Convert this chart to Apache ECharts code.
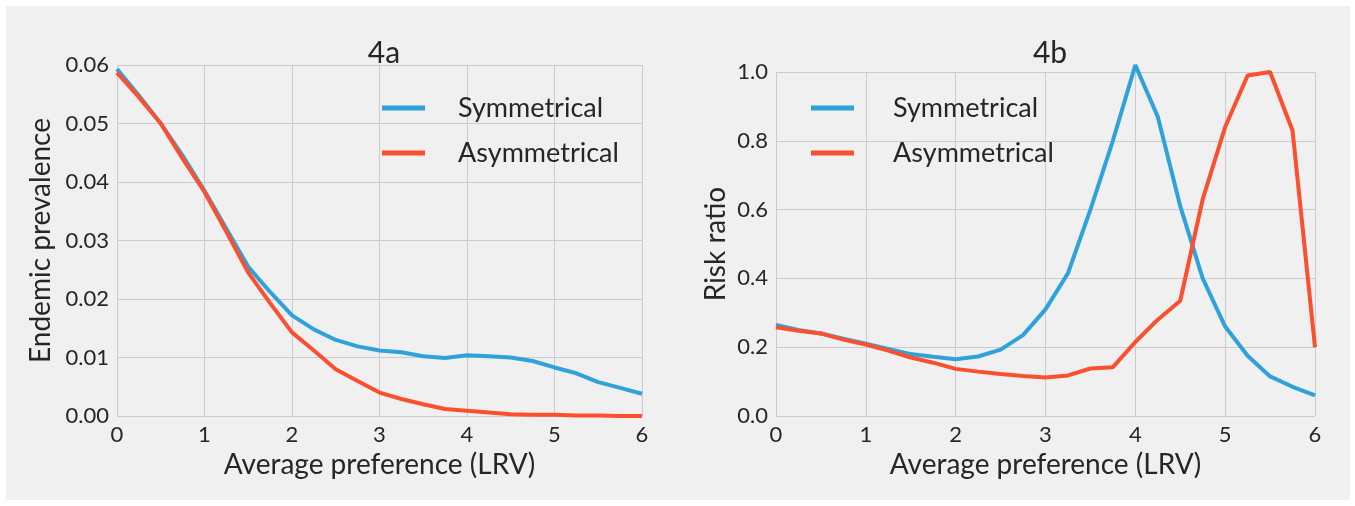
<!DOCTYPE html>
<html>
<head>
<meta charset="utf-8">
<script src="https://cdn.jsdelivr.net/npm/echarts@6/dist/echarts.min.js"></script>
<style>
	html, body { margin: 0; padding: 0; background: #fff; }
	#chart { width: 1355px; height: 506px; }
</style>
</head>
<body>
<div id="chart"></div>
<script>
// average preference (LRV), sampled every 0.25
var lrv = [0, 0.25, 0.5, 0.75, 1, 1.25, 1.5, 1.75, 2, 2.25, 2.5, 2.75, 3, 3.25, 3.5, 3.75, 4, 4.25, 4.5, 4.75, 5, 5.25, 5.5, 5.75, 6];

// 4a - endemic prevalence
var prevSym = [0.0593, 0.0548, 0.0500, 0.0445, 0.0385, 0.0320, 0.0255, 0.0212, 0.0172, 0.0148, 0.0130, 0.0119, 0.0112, 0.0109, 0.0102, 0.0099, 0.0104, 0.0102, 0.0100, 0.0094, 0.0083, 0.0073, 0.0058, 0.0048, 0.0038];
var prevAsym = [0.0587, 0.0545, 0.0500, 0.0440, 0.0383, 0.0315, 0.0245, 0.0193, 0.0143, 0.0112, 0.0080, 0.0060, 0.0040, 0.0029, 0.0020, 0.0012, 0.0009, 0.0006, 0.0003, 0.0002, 0.0002, 0.0001, 0.0001, 0.0000, 0.0000];

// 4b - risk ratio
var riskSym = [0.265, 0.250, 0.240, 0.225, 0.210, 0.195, 0.180, 0.172, 0.165, 0.173, 0.193, 0.235, 0.310, 0.415, 0.600, 0.800, 1.020, 0.870, 0.610, 0.400, 0.260, 0.175, 0.115, 0.085, 0.060];
var riskAsym = [0.258, 0.248, 0.240, 0.222, 0.208, 0.190, 0.170, 0.155, 0.137, 0.129, 0.122, 0.116, 0.112, 0.118, 0.138, 0.142, 0.215, 0.280, 0.335, 0.630, 0.840, 0.990, 1.000, 0.830, 0.200];

var seriesNames = ['Symmetrical', 'Asymmetrical'];
var colors = ['#30a2da', '#fc4f30'];
var font = 'Lato';
var txt = '#262626';

function pairs(ys) {
	return lrv.map(function (x, i) { return [x, ys[i]]; });
}

function xAxisOf(idx) {
	return {
		type: 'value', gridIndex: idx, min: 0, max: 6, interval: 1,
		name: 'Average preference (LRV)', nameLocation: 'middle', nameGap: 34,
		nameTextStyle: { fontFamily: font, fontSize: 28, color: txt },
		axisLine: { show: false }, axisTick: { show: false },
		axisLabel: { margin: 8, fontFamily: font, fontSize: 22, color: txt },
		splitLine: { lineStyle: { color: '#cbcbcb', width: 1 } }
	};
}

function lineOf(name, idx, ys, color) {
	return {
		name: name, type: 'line', xAxisIndex: idx, yAxisIndex: idx,
		data: pairs(ys), symbol: 'none', clip: false,
		lineStyle: { width: 4, color: color }, itemStyle: { color: color }
	};
}

var chart = echarts.init(document.getElementById('chart'));
var option = {
	backgroundColor: 'transparent',
	color: colors,
	animation: false,
	graphic: [{
		type: 'rect', z: -10, silent: true,
		shape: { x: 6, y: 6, width: 1344, height: 494 },
		style: { fill: '#f0f0f0' }
	}],
	title: [
		{ text: '4a', left: 379, top: 33, textAlign: 'center',
			textStyle: { fontFamily: font, fontSize: 30, fontWeight: 'normal', color: txt } },
		{ text: '4b', left: 1045, top: 33, textAlign: 'center',
			textStyle: { fontFamily: font, fontSize: 30, fontWeight: 'normal', color: txt } }
	],
	legend: [
		{ data: seriesNames, left: 377, top: 89, orient: 'vertical', icon: 'rect',
			itemWidth: 43, itemHeight: 5, itemGap: 17,
			textStyle: { fontFamily: font, fontSize: 27, color: txt, lineHeight: 28, padding: [0, 0, 0, 28] } },
		{ data: seriesNames, left: 806, top: 89, orient: 'vertical', icon: 'rect',
			itemWidth: 43, itemHeight: 5, itemGap: 17,
			textStyle: { fontFamily: font, fontSize: 27, color: txt, lineHeight: 28, padding: [0, 0, 0, 34] } }
	],
	grid: [
		{ left: 117, right: 713, top: 65, bottom: 90 },
		{ left: 776, right: 40, top: 72, bottom: 90 }
	],
	xAxis: [xAxisOf(0), xAxisOf(1)],
	yAxis: [
		{
			type: 'value', gridIndex: 0, min: 0, max: 0.06, interval: 0.01,
			name: 'Endemic prevalence', nameLocation: 'middle', nameGap: 62,
			nameTextStyle: { fontFamily: font, fontSize: 28, color: txt },
			axisLine: { show: false }, axisTick: { show: false },
			axisLabel: { margin: 8, fontFamily: font, fontSize: 22, color: txt,
				formatter: function (v) { return v.toFixed(2); } },
			splitLine: { lineStyle: { color: '#cbcbcb', width: 1 } }
		},
		{
			type: 'value', gridIndex: 1, min: 0, max: 1, interval: 0.2,
			name: 'Risk ratio', nameLocation: 'middle', nameGap: 46,
			nameTextStyle: { fontFamily: font, fontSize: 28, color: txt },
			axisLine: { show: false }, axisTick: { show: false },
			axisLabel: { margin: 8, fontFamily: font, fontSize: 22, color: txt,
				formatter: function (v) { return v.toFixed(1); } },
			splitLine: { lineStyle: { color: '#cbcbcb', width: 1 } }
		}
	],
	series: [
		lineOf(seriesNames[0], 0, prevSym, colors[0]),
		lineOf(seriesNames[1], 0, prevAsym, colors[1]),
		lineOf(seriesNames[0], 1, riskSym, colors[0]),
		lineOf(seriesNames[1], 1, riskAsym, colors[1])
	]
};
chart.setOption(option);
</script>
</body>
</html>
